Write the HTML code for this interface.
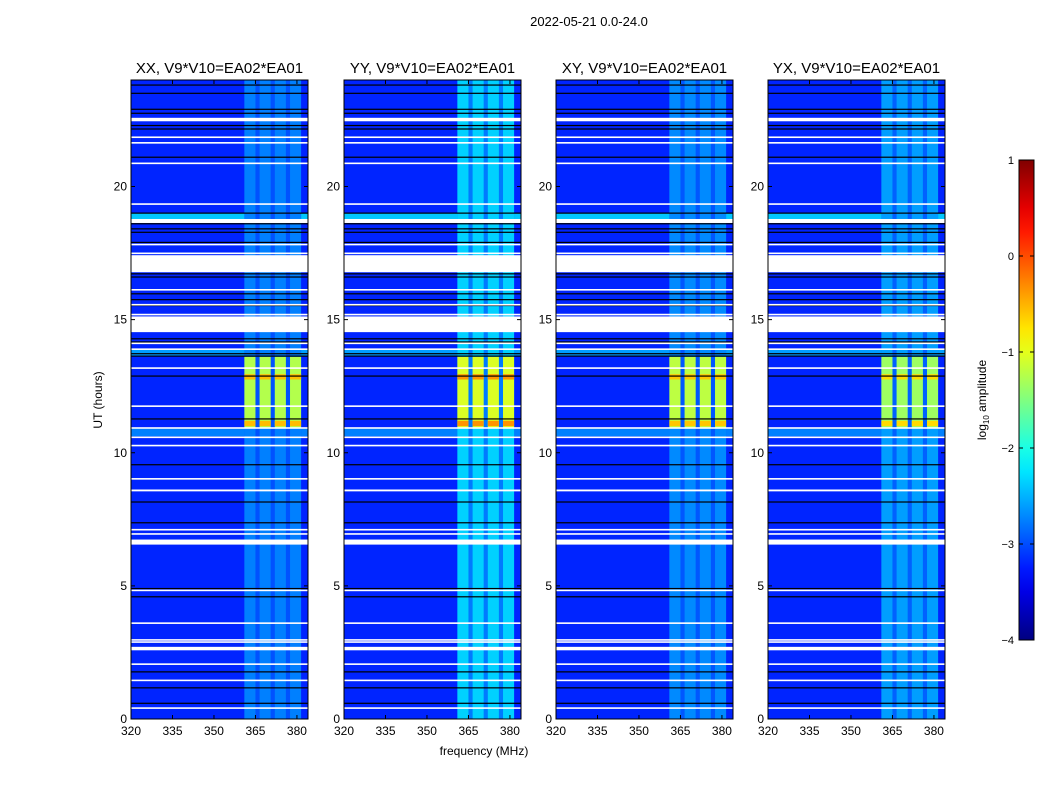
<!DOCTYPE html>
<html><head><meta charset="utf-8"><style>
body{margin:0;background:#fff;}
svg{display:block;font-family:"Liberation Sans","DejaVu Sans",sans-serif;}
</style></head><body>
<svg id="fig" width="1050" height="800" viewBox="0 0 1050 800">
<text x="589" y="26" font-size="13" text-anchor="middle">2022-05-21 0.0-24.0</text>
<text x="484" y="755" font-size="12" text-anchor="middle">frequency (MHz)</text>
<text transform="translate(102,400) rotate(-90)" font-size="12" text-anchor="middle">UT (hours)</text>
<g id="panels"></g>
<g id="cbar"></g>
</svg>
<script>
const panelTitles = ["XX, V9*V10=EA02*EA01","YY, V9*V10=EA02*EA01","XY, V9*V10=EA02*EA01","YX, V9*V10=EA02*EA01"];
const baseLevel = -3.2;
// bright full-width rows [startHour, endHour, level]
const brightRows = [[18.72,19.0,-2.4],[10.62,10.92,-2.75],[13.63,13.9,-2.6]];
// RFI frequency columns [startMHz, endMHz]
const rfiCols = [[361,365],[366.5,370.5],[372,376],[377.5,381.5]];
// RFI quiet-level per panel
const rfiQuiet = [-2.75,-2.35,-2.7,-2.6];
// RFI strong window hours
const strongWindow = [10.95,13.6];
const rfiStrong = [-1.25,-1.05,-1.2,-1.35];
// orange rows inside strong window [start,end]
const hotRows = [[12.75,12.95],[11.0,11.2]];
const hotLevel = [-0.55,-0.35,-0.6,-0.7];
// white flag gaps [startHour, endHour]
const whiteGaps = [[22.45,22.58],[21.83,21.88],[21.62,21.67],[20.86,20.9],[19.33,19.37],[18.63,18.78],[17.8,17.85],[17.48,17.52],[16.78,17.42],[16.11,16.15],[15.55,15.59],[15.18,15.22],[14.53,15.12],[14.1,14.14],[13.88,13.92],[13.17,13.21],[11.74,11.78],[10.92,10.96],[10.57,10.61],[10.26,10.3],[9.01,9.05],[8.55,8.62],[7.1,7.14],[6.94,6.98],[6.55,6.74],[4.82,4.86],[3.59,3.63],[2.96,3.0],[2.88,2.92],[2.58,2.71],[2.03,2.09],[1.44,1.48],[0.4,0.44]];
// black flag lines (hours)
const blackLines = [23.81,23.5,22.9,22.75,22.29,22.16,21.1,19.0,18.6,18.41,18.28,17.9,16.72,16.6,15.97,15.75,15.53,14.28,14.16,13.72,13.63,12.88,11.27,9.55,8.15,7.37,4.9,4.59,1.77,1.17,0.59];
const xTicks = [320,335,350,365,380];
const yTicks = [0,5,10,15,20];
const cbTicks = [1,0,-1,-2,-3,-4];

const panelX = [131,344,556,768], PW = 177, PT = 80, PB = 719;
const fMin = 320, fMax = 384, hMax = 24;
const vMin = -4, vMax = 1;
const NS = "http://www.w3.org/2000/svg";
function jet(v){
  let t=(v-vMin)/(vMax-vMin); t=Math.max(0,Math.min(1,t));
  const c=x=>Math.round(255*Math.max(0,Math.min(1,x)));
  const r=c(1.5-Math.abs(4*t-3)), g=c(1.5-Math.abs(4*t-2)), b=c(1.5-Math.abs(4*t-1));
  return `rgb(${r},${g},${b})`;
}
function el(tag,attrs,parent){const e=document.createElementNS(NS,tag);for(const k in attrs)e.setAttribute(k,attrs[k]);parent.appendChild(e);return e;}
const panelsG=document.getElementById('panels');
panelTitles.forEach((title,p)=>{
  const x0=panelX[p];
  const xs=f=>x0+(f-fMin)/(fMax-fMin)*PW;
  const ys=h=>PB-h/hMax*(PB-PT);
  const g=el('g',{},panelsG);
  
  
  const bg=el('rect',{x:x0,y:PT,width:PW,height:PB-PT,fill:jet(baseLevel)},g);
  
  
  brightRows.forEach(r=>{
    const e=el('rect',{x:x0,y:ys(r[1]),width:PW,height:ys(r[0])-ys(r[1]),fill:jet(r[2])},g);
    
    
  });
  const band=el('rect',{x:xs(rfiCols[0][0]),y:PT,width:xs(rfiCols[3][1])-xs(rfiCols[0][0]),height:PB-PT,fill:jet((rfiQuiet[p]+baseLevel)/2)},g);
  
  
  rfiCols.forEach(c=>{
    const q=el('rect',{x:xs(c[0]),y:PT,width:xs(c[1])-xs(c[0]),height:PB-PT,fill:jet(rfiQuiet[p])},g);
    
    
    const s=el('rect',{x:xs(c[0]),y:ys(strongWindow[1]),width:xs(c[1])-xs(c[0]),height:ys(strongWindow[0])-ys(strongWindow[1]),fill:jet(rfiStrong[p])},g);
    
    
    hotRows.forEach(hr=>{
      const h=el('rect',{x:xs(c[0]),y:ys(hr[1]),width:xs(c[1])-xs(c[0]),height:ys(hr[0])-ys(hr[1]),fill:jet(hotLevel[p])},g);
      
      
    });
  });
  blackLines.forEach(h=>{
    const l=el('rect',{x:x0,y:ys(h)-0.6,width:PW,height:1.2,fill:'#000'},g);
    
    
  });
  whiteGaps.forEach(w=>{
    const hgt=Math.max(1.6,ys(w[0])-ys(w[1]));
    const r=el('rect',{x:x0,y:ys(w[1]),width:PW,height:hgt,fill:'#fff'},g);
    
    
  });
  const fr=el('rect',{x:x0,y:PT,width:PW,height:PB-PT,fill:'none',stroke:'#000','stroke-width':1},g);
  
  
  const t=el('text',{x:x0+PW/2,y:73,'font-size':15,'text-anchor':'middle'},g);
  t.textContent=title;
  
  
  xTicks.forEach(f=>{
    const X=xs(f);
    el('line',{x1:X,x2:X,y1:PB,y2:PB-4,stroke:'#000'},g);
    el('line',{x1:X,x2:X,y1:PT,y2:PT+4,stroke:'#000'},g);
    const tl=el('text',{x:X,y:PB+16,'font-size':12,'text-anchor':'middle'},g);
    tl.textContent=f;
    
    
  });
  yTicks.forEach(h=>{
    const Y=ys(h);
    el('line',{x1:x0,x2:x0+4,y1:Y,y2:Y,stroke:'#000'},g);
    el('line',{x1:x0+PW,x2:x0+PW-4,y1:Y,y2:Y,stroke:'#000'},g);
    const tl=el('text',{x:x0-4,y:Y+4,'font-size':12,'text-anchor':'end'},g);
    tl.textContent=h;
    
    
  });
});
// colorbar
const cb=document.getElementById('cbar');


const CX=1019,CW=15,CT=160,CB=640;
const defs=el('defs',{},cb);
const grad=el('linearGradient',{id:'jetg',x1:0,y1:1,x2:0,y2:0},defs);
for(let i=0;i<=20;i++){const v=vMin+(vMax-vMin)*i/20;el('stop',{offset:(i/20),'stop-color':jet(v)},grad);}
el('rect',{x:CX,y:CT,width:CW,height:CB-CT,fill:'url(#jetg)',stroke:'#000','stroke-width':1},cb);
cbTicks.forEach(v=>{
  const Y=CB-(v-vMin)/(vMax-vMin)*(CB-CT);
  el('line',{x1:CX,x2:CX+4,y1:Y,y2:Y,stroke:'#000'},cb);
  el('line',{x1:CX+CW,x2:CX+CW-4,y1:Y,y2:Y,stroke:'#000'},cb);
  const tl=el('text',{x:CX-5,y:Y+4,'font-size':11,'text-anchor':'end'},cb);
  tl.textContent=(v<0?'\u2212'+(-v):v);
  
  
});
const cl=el('text',{transform:'translate(986,400) rotate(-90)','font-size':12,'text-anchor':'middle'},cb);
cl.innerHTML='log<tspan font-size="8" dy="3">10</tspan><tspan dy="-3"> amplitude</tspan>';


</script>
</body></html>
